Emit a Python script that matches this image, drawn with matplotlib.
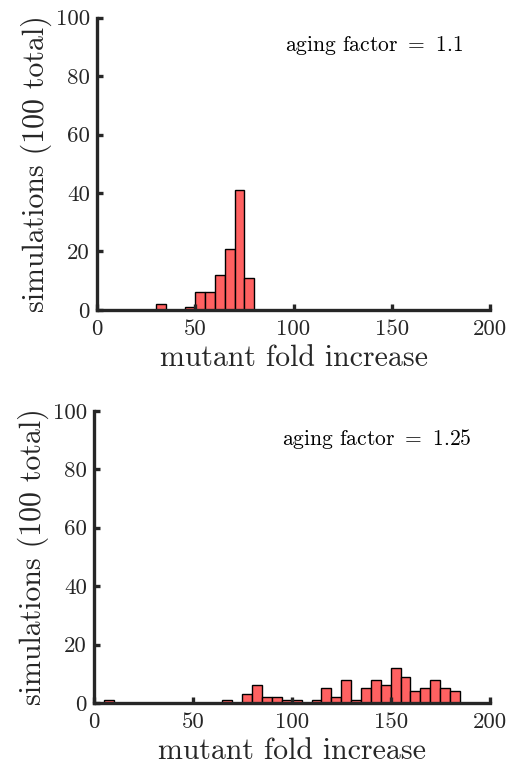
import matplotlib
matplotlib.use("Agg")
from matplotlib import pyplot as plt

plt.rcParams["font.family"] = "serif"
plt.rcParams["font.serif"] = ["cmr10"]
plt.rcParams["mathtext.fontset"] = "cm"
plt.rcParams["axes.unicode_minus"] = False

# bin left edges (width 5) and counts
bins_top = [30, 35, 40, 45, 50, 55, 60, 65, 70, 75]
counts_top = [2, 0, 0, 1, 6, 6, 12, 21, 41, 11]

bins_bot = [5, 65, 75, 80, 85, 90, 95, 100, 110, 115, 120, 125, 130,
            135, 140, 145, 150, 155, 160, 165, 170, 175, 180]
counts_bot = [1, 1, 3, 6, 2, 2, 1, 1, 1, 5, 2, 8, 1,
              5, 8, 6, 12, 9, 4, 5, 8, 5, 4]

labels = ["aging factor = 1.1", "aging factor = 1.25"]
bin_width = 5

fig = plt.figure(figsize=(5.1, 7.69), dpi=100)
ax1 = fig.add_axes([0.190, 0.597, 0.771, 0.380])
ax2 = fig.add_axes([0.184, 0.0858, 0.776, 0.380])

for ax, b, c, lab, tx in [(ax1, bins_top, counts_top, labels[0], 0.478),
                          (ax2, bins_bot, counts_bot, labels[1], 0.475)]:
    ax.bar(b, c, width=bin_width, align="edge", color="#ff6161",
           edgecolor="black", linewidth=1)
    ax.set_xlim(0, 200)
    ax.set_ylim(0, 100)
    ax.set_xticks([0, 50, 100, 150, 200])
    ax.set_yticks([0, 20, 40, 60, 80, 100])
    for s in ["top", "right"]:
        ax.spines[s].set_visible(False)
    for s in ["left", "bottom"]:
        ax.spines[s].set_linewidth(2.4)
        ax.spines[s].set_color("#262626")
    ax.tick_params(direction="in", length=4, width=2.4, color="#262626",
                   labelsize=16.5, labelcolor="#262626")
    ax.tick_params(axis="x", pad=7)
    ax.tick_params(axis="y", pad=5)
    ax.set_xlabel("mutant fold increase", fontsize=21.5, color="#262626",
                  labelpad=4)
    ax.set_ylabel("simulations (100 total)", fontsize=21.5, color="#262626",
                  labelpad=3)
    ax.text(tx, 0.905, lab.replace("=", "$=$"), transform=ax.transAxes,
            fontsize=15.5, color="black", va="center")

fig.savefig("out.png", dpi=100)
